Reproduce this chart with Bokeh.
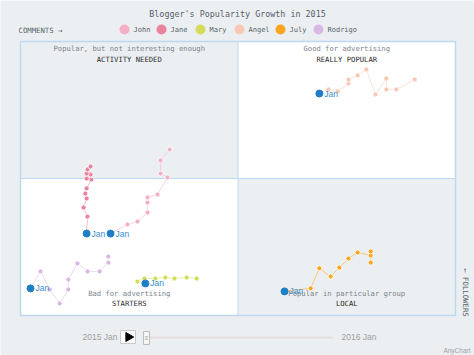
import math
from bokeh.plotting import figure
from bokeh.models import Range1d
from bokeh.core.properties import value
from bokeh.embed import file_html
from bokeh.resources import INLINE

# ---------------- data ----------------
series_names = ["John", "Jane", "Mary", "Angel", "July", "Rodrigo"]
series_colors = ["#f3b0c6", "#e9849f", "#d3dd5a", "#f7c8b3", "#f9a51e", "#d9b9e3"]

john_comments = [20.7, 24.6, 26.9, 29.2, 29.2, 29.2, 31.5, 33.8, 32.2, 32.2, 34.3]
john_followers = [29.9, 33.2, 34.3, 37.6, 41.2, 43.1, 44.2, 50.4, 51.8, 56.6, 60.6]

jane_comments = [15.2, 15.4, 14.5, 15.2, 14.9, 15.2, 16.3, 15.2, 16.1, 15.2, 15.4, 16.1]
jane_followers = [29.9, 36.1, 39.4, 42.7, 44.5, 46.4, 49.6, 50.0, 51.5, 51.8, 53.3, 54.4]

mary_comments = [28.7, 26.9, 28.5, 31.0, 33.3, 35.4, 38.2, 40.5]
mary_followers = [11.7, 12.4, 13.5, 13.5, 13.9, 13.5, 13.9, 13.5]

angel_comments = [68.7, 70.8, 72.9, 75.4, 75.4, 77.5, 79.5, 81.6, 84.1, 84.1, 86.4, 90.6]
angel_followers = [81.0, 82.5, 81.8, 84.7, 86.1, 87.6, 89.8, 80.7, 86.5, 82.5, 82.5, 86.1]

july_comments = [60.7, 66.7, 68.7, 71.3, 73.3, 75.4, 77.5, 80.5, 80.5, 80.5]
july_followers = [8.8, 9.9, 17.2, 14.2, 17.5, 20.8, 23.0, 21.9, 23.4, 19.3]

rodrigo_comments = [2.3, 4.6, 6.7, 9.0, 11.0, 11.0, 13.1, 15.4, 18.2, 20.2, 20.2]
rodrigo_followers = [9.9, 16.1, 9.5, 4.4, 9.5, 13.1, 19.0, 16.1, 16.1, 19.3, 21.5]

all_comments = [john_comments, jane_comments, mary_comments, angel_comments, july_comments, rodrigo_comments]
all_followers = [john_followers, jane_followers, mary_followers, angel_followers, july_followers, rodrigo_followers]

current_label = "Jan"
quadrant_titles = ["Popular, but not interesting enough", "Good for advertising",
                   "Bad for advertising", "Popular in particular group"]
quadrant_names = ["ACTIVITY NEEDED", "REALLY POPULAR", "STARTERS", "LOCAL"]
title_text = "Blogger's Popularity Growth in 2015"
x_axis_title = "COMMENTS \u2192"
y_axis_title = "\u2190 FOLLOWERS"
timeline_start = "2015 Jan"
timeline_end = "2016 Jan"

# ---------------- layout helpers ----------------
W, H = 474, 355
PL, PR, PT, PB = 20, 455, 41, 315          # plot box in pixels
SX = (PR - PL) / 100.0
SY = (PB - PT) / 100.0


def X(px):
    return (px - PL) / SX


def Y(py):
    return (PB - py) / SY


BG = "#eceff1"
BORDER = "#bcd8f2"
MONO = value("DejaVu Sans Mono")
SANS = value("Liberation Sans")

p = figure(width=W, height=H, output_backend="svg", toolbar_location=None,
           x_range=Range1d(X(0), X(W)), y_range=Range1d(Y(H), Y(0)),
           min_border=0, min_border_left=0, min_border_right=0,
           min_border_top=0, min_border_bottom=0)
p.xaxis.visible = False
p.yaxis.visible = False
p.grid.visible = False
p.outline_line_color = None
p.background_fill_color = BG
p.border_fill_color = BG

# quadrants
p.quad(left=[0, 50, 0, 50], right=[50, 100, 50, 100],
       bottom=[50, 50, 0, 0], top=[100, 100, 50, 50],
       fill_color=[BG, "white", "white", BG], line_color=None)
p.line([0, 100], [50, 50], line_color=BORDER, line_width=1)
p.line([50, 50], [0, 100], line_color=BORDER, line_width=1)
p.quad(left=[0], right=[100], bottom=[0], top=[100], fill_color=None,
       line_color=BORDER, line_width=1.5)

# quadrant texts
qx = [25, 75, 25, 75]
qy1 = [Y(48), Y(48), Y(293), Y(293)]
qy2 = [Y(59), Y(59), Y(303), Y(303)]
p.text(x=qx, y=qy1, text=quadrant_titles, text_font=MONO, text_font_size="7.2px",
       text_color="#7b858d", text_align="center", text_baseline="middle")
p.text(x=qx, y=qy2, text=quadrant_names, text_font=MONO, text_font_size="7.2px",
       text_color="#2b2b2b", text_align="center", text_baseline="middle")

# series trails
for cx, fy, col in zip(all_comments, all_followers, series_colors):
    p.line(cx, fy, line_color=col, line_alpha=0.55, line_width=1)
    p.scatter(cx[1:], fy[1:], size=5, fill_color=col, line_color="white",
              line_width=0.8)

# current-month markers
cur_x = [c[0] for c in all_comments]
cur_y = [f[0] for f in all_followers]
p.scatter(cur_x, cur_y, size=7, fill_color="#1f7fc6", line_color="#1f7fc6")
p.text(x=[c + 5 / SX for c in cur_x], y=cur_y, text=[current_label] * len(cur_x),
       text_font=SANS, text_font_size="8.5px", text_color="#3a8fd0",
       text_baseline="middle", text_align="left")

# title
p.text(x=[X(237)], y=[Y(13)], text=[title_text], text_font=MONO,
       text_font_size="8.4px", text_color="#545f69", text_align="center",
       text_baseline="middle")

# axis titles
p.text(x=[X(18)], y=[Y(29.5)], text=[x_axis_title], text_font=MONO,
       text_font_size="7.3px", text_color="#545f69", text_align="left",
       text_baseline="middle")
p.text(x=[X(465)], y=[Y(292)], text=[y_axis_title], text_font=MONO,
       text_font_size="7.3px", text_color="#545f69", text_align="center",
       text_baseline="middle", angle=-math.pi / 2)

# legend
leg_px = [124, 161, 200, 239, 280, 318]
p.scatter([X(v) for v in leg_px], [Y(29)] * 6, size=10, fill_color=series_colors,
          line_color=None)
p.text(x=[X(v + 9) for v in leg_px], y=[Y(29)] * 6, text=series_names,
       text_font=MONO, text_font_size="7px", text_color="#545f69",
       text_align="left", text_baseline="middle")

# timeline
p.text(x=[X(117)], y=[Y(336.5)], text=[timeline_start], text_font=SANS,
       text_font_size="8.5px", text_color="#9e9e9e", text_align="right",
       text_baseline="middle")
p.text(x=[X(341)], y=[Y(336.5)], text=[timeline_end], text_font=SANS,
       text_font_size="8.5px", text_color="#9e9e9e", text_align="left",
       text_baseline="middle")
p.line([X(149), X(332)], [Y(337), Y(337)], line_color="#e5dede", line_width=2)
p.quad(left=[X(120)], right=[X(135)], bottom=[Y(343)], top=[Y(330)],
       fill_color="white", line_color="#c8c8c8", line_width=1)
p.scatter([X(128)], [Y(336.5)], marker="triangle", angle=-math.pi / 2, size=9,
          fill_color="black", line_color="black")
p.quad(left=[X(143)], right=[X(149)], bottom=[Y(344)], top=[Y(331)],
       fill_color="#f5f5f5", line_color="#bdbdbd", line_width=1)
p.text(x=[X(146)], y=[Y(337.5)], text=["\u2261"], text_font=SANS,
       text_font_size="6px", text_color="#9e9e9e", text_align="center",
       text_baseline="middle")

# credit
p.text(x=[X(470)], y=[Y(350)], text=["AnyChart"], text_font=SANS,
       text_font_size="6.5px", text_color="#9aa0a6", text_align="right",
       text_baseline="middle")

open("out.html", "w").write(file_html(p, INLINE))
